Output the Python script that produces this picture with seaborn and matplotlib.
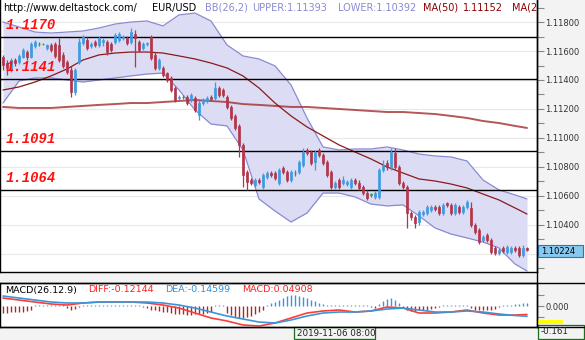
import numpy as np
import pandas as pd
import matplotlib
matplotlib.use("Agg")
import matplotlib.pyplot as plt
import seaborn as sns
from matplotlib.lines import Line2D
from matplotlib.patches import Rectangle
from matplotlib.ticker import MultipleLocator, FixedFormatter

sns.set_theme(style="white")
plt.rcParams['font.family'] = ['DejaVu Sans']

# ---- EUR/USD hourly candles ----
opens = [1.11559, 1.11517, 1.11469, 1.11538, 1.11524, 1.11559, 1.11593, 1.11559, 1.11635, 1.11648,
         1.11648, 1.11621, 1.11642, 1.11648, 1.11642, 1.11573, 1.11524, 1.11469, 1.11317, 1.11524,
         1.11655, 1.11676, 1.11635, 1.11662, 1.11642, 1.11662, 1.11662, 1.11648, 1.11662, 1.11676,
         1.11690, 1.11690, 1.11662, 1.11717, 1.11662, 1.11621, 1.11648, 1.11697, 1.11573, 1.11483,
         1.11483, 1.11448, 1.11414, 1.11345, 1.11276, 1.11283, 1.11283, 1.11262, 1.11276, 1.11159,
         1.11241, 1.11255, 1.11283, 1.11276, 1.11345, 1.11331, 1.11283, 1.11214, 1.11152, 1.11083,
         1.10952, 1.10765, 1.10710, 1.10676, 1.10710, 1.10662, 1.10731, 1.10758, 1.10758, 1.10689,
         1.10793, 1.10765, 1.10710, 1.10758, 1.10765, 1.10814, 1.10917, 1.10903, 1.10834, 1.10917,
         1.10883, 1.10834, 1.10765, 1.10662, 1.10710, 1.10689, 1.10682, 1.10662, 1.10710, 1.10689,
         1.10662, 1.10620, 1.10607, 1.10593, 1.10593, 1.10779, 1.10827, 1.10800, 1.10896, 1.10800,
         1.10689, 1.10662, 1.10482, 1.10455, 1.10420, 1.10475, 1.10482, 1.10503, 1.10524, 1.10524,
         1.10482, 1.10551, 1.10538, 1.10482, 1.10524, 1.10489, 1.10524, 1.10517, 1.10400, 1.10365,
         1.10296, 1.10331, 1.10296, 1.10241, 1.10206, 1.10241, 1.10213, 1.10213, 1.10241, 1.10241,
         1.10193, 1.10241]
highs = [1.11573, 1.11538, 1.11552, 1.11552, 1.11579, 1.11621, 1.11607, 1.11662, 1.11676, 1.11662,
         1.11655, 1.11648, 1.11655, 1.11662, 1.11690, 1.11593, 1.11538, 1.11497, 1.11483, 1.11690,
         1.11710, 1.11697, 1.11662, 1.11676, 1.11704, 1.11690, 1.11676, 1.11662, 1.11724, 1.11731,
         1.11710, 1.11704, 1.11759, 1.11745, 1.11676, 1.11662, 1.11662, 1.11710, 1.11593, 1.11552,
         1.11497, 1.11455, 1.11428, 1.11359, 1.11297, 1.11297, 1.11297, 1.11310, 1.11290, 1.11262,
         1.11276, 1.11290, 1.11297, 1.11386, 1.11359, 1.11345, 1.11297, 1.11228, 1.11165, 1.11096,
         1.10965, 1.10779, 1.10724, 1.10724, 1.10724, 1.10758, 1.10772, 1.10772, 1.10772, 1.10793,
         1.10807, 1.10779, 1.10779, 1.10779, 1.10848, 1.10931, 1.10931, 1.10917, 1.10917, 1.10931,
         1.10896, 1.10848, 1.10779, 1.10703, 1.10724, 1.10738, 1.10710, 1.10724, 1.10724, 1.10710,
         1.10676, 1.10641, 1.10620, 1.10634, 1.10793, 1.10848, 1.10848, 1.10931, 1.10931, 1.10814,
         1.10703, 1.10676, 1.10496, 1.10469, 1.10503, 1.10503, 1.10538, 1.10538, 1.10538, 1.10538,
         1.10551, 1.10558, 1.10551, 1.10551, 1.10538, 1.10538, 1.10572, 1.10558, 1.10413, 1.10379,
         1.10331, 1.10344, 1.10310, 1.10255, 1.10241, 1.10255, 1.10262, 1.10255, 1.10255, 1.10255,
         1.10262, 1.10248]
lows = [1.11469, 1.11435, 1.11455, 1.11497, 1.11510, 1.11552, 1.11538, 1.11552, 1.11621, 1.11635,
        1.11642, 1.11607, 1.11593, 1.11552, 1.11524, 1.11483, 1.11441, 1.11283, 1.11297, 1.11510,
        1.11642, 1.11607, 1.11621, 1.11628, 1.11628, 1.11635, 1.11573, 1.11593, 1.11648, 1.11662,
        1.11676, 1.11642, 1.11648, 1.11490, 1.11593, 1.11607, 1.11635, 1.11538, 1.11469, 1.11469,
        1.11421, 1.11386, 1.11317, 1.11248, 1.11262, 1.11269, 1.11228, 1.11248, 1.11179, 1.11124,
        1.11228, 1.11241, 1.11262, 1.11262, 1.11283, 1.11283, 1.11200, 1.11124, 1.11055, 1.10869,
        1.10662, 1.10641, 1.10676, 1.10662, 1.10682, 1.10648, 1.10717, 1.10731, 1.10710, 1.10676,
        1.10751, 1.10696, 1.10696, 1.10738, 1.10751, 1.10800, 1.10883, 1.10814, 1.10779, 1.10869,
        1.10814, 1.10731, 1.10648, 1.10648, 1.10648, 1.10676, 1.10669, 1.10648, 1.10676, 1.10641,
        1.10607, 1.10572, 1.10593, 1.10579, 1.10579, 1.10765, 1.10779, 1.10779, 1.10786, 1.10676,
        1.10648, 1.10379, 1.10434, 1.10379, 1.10400, 1.10462, 1.10469, 1.10489, 1.10496, 1.10469,
        1.10469, 1.10524, 1.10469, 1.10469, 1.10475, 1.10475, 1.10510, 1.10386, 1.10337, 1.10268,
        1.10282, 1.10282, 1.10199, 1.10193, 1.10193, 1.10206, 1.10199, 1.10199, 1.10213, 1.10179,
        1.10179, 1.10220]
closes = [1.11504, 1.11483, 1.11538, 1.11517, 1.11566, 1.11607, 1.11559, 1.11648, 1.11662, 1.11648,
          1.11648, 1.11642, 1.11607, 1.11566, 1.11538, 1.11497, 1.11455, 1.11317, 1.11469, 1.11662,
          1.11697, 1.11621, 1.11648, 1.11642, 1.11690, 1.11676, 1.11593, 1.11607, 1.11710, 1.11717,
          1.11697, 1.11655, 1.11731, 1.11690, 1.11607, 1.11648, 1.11655, 1.11552, 1.11483, 1.11538,
          1.11435, 1.11400, 1.11331, 1.11262, 1.11283, 1.11283, 1.11241, 1.11297, 1.11193, 1.11241,
          1.11262, 1.11276, 1.11269, 1.11345, 1.11297, 1.11297, 1.11214, 1.11138, 1.11069, 1.10952,
          1.10745, 1.10696, 1.10689, 1.10710, 1.10696, 1.10745, 1.10758, 1.10745, 1.10724, 1.10779,
          1.10765, 1.10710, 1.10765, 1.10758, 1.10834, 1.10903, 1.10896, 1.10827, 1.10903, 1.10883,
          1.10827, 1.10745, 1.10662, 1.10689, 1.10662, 1.10710, 1.10696, 1.10710, 1.10689, 1.10655,
          1.10620, 1.10586, 1.10607, 1.10620, 1.10779, 1.10814, 1.10800, 1.10903, 1.10800, 1.10689,
          1.10662, 1.10482, 1.10455, 1.10413, 1.10489, 1.10489, 1.10524, 1.10524, 1.10510, 1.10482,
          1.10538, 1.10538, 1.10482, 1.10538, 1.10489, 1.10524, 1.10558, 1.10400, 1.10351, 1.10282,
          1.10317, 1.10296, 1.10213, 1.10206, 1.10227, 1.10220, 1.10248, 1.10241, 1.10227, 1.10193,
          1.10241, 1.10224]

# ---- indicator readings, every 4th bar ----
ind_bar = [0, 4, 8, 12, 16, 20, 24, 28, 32, 36, 40, 44, 48, 52, 56, 60, 64, 68, 72, 76,
           80, 84, 88, 92, 96, 100, 104, 108, 112, 116, 120, 124, 128, 131]
bb_upper = [1.11800, 1.11766, 1.11731, 1.11724, 1.11731, 1.11738, 1.11759, 1.11786, 1.11800, 1.11807,
            1.11773, 1.11849, 1.11862, 1.11807, 1.11642, 1.11566, 1.11545, 1.11497, 1.11366, 1.11138,
            1.10938, 1.10917, 1.10924, 1.10924, 1.10938, 1.10917, 1.10889, 1.10876, 1.10869, 1.10841,
            1.10710, 1.10641, 1.10607, 1.10579]
bb_lower = [1.11241, 1.11393, 1.11414, 1.11414, 1.11400, 1.11386, 1.11400, 1.11414, 1.11428, 1.11441,
            1.11448, 1.11331, 1.11193, 1.11096, 1.11083, 1.10917, 1.10579, 1.10496, 1.10420, 1.10482,
            1.10620, 1.10620, 1.10593, 1.10544, 1.10531, 1.10538, 1.10462, 1.10379, 1.10337, 1.10310,
            1.10282, 1.10241, 1.10130, 1.10082]
ma50 = [1.11331, 1.11352, 1.11386, 1.11428, 1.11476, 1.11538, 1.11573, 1.11586, 1.11593, 1.11593,
        1.11586, 1.11566, 1.11545, 1.11517, 1.11483, 1.11428, 1.11345, 1.11241, 1.11152, 1.11076,
        1.11014, 1.10952, 1.10903, 1.10855, 1.10800, 1.10758, 1.10717, 1.10703, 1.10682, 1.10655,
        1.10613, 1.10572, 1.10517, 1.10475]
ma200 = [1.11214, 1.11207, 1.11207, 1.11207, 1.11214, 1.11221, 1.11228, 1.11234, 1.11241, 1.11241,
         1.11248, 1.11255, 1.11262, 1.11255, 1.11248, 1.11234, 1.11228, 1.11221, 1.11214, 1.11214,
         1.11207, 1.11200, 1.11193, 1.11186, 1.11179, 1.11179, 1.11172, 1.11165, 1.11152, 1.11138,
         1.11117, 1.11103, 1.11083, 1.11069]
diff = [0.114, 0.086, 0.057, 0.029, 0.014, 0.043, 0.057, 0.057, 0.057, 0.043,
        0.014, -0.029, -0.100, -0.171, -0.214, -0.271, -0.286, -0.243, -0.171, -0.100,
        -0.071, -0.057, -0.086, -0.071, -0.014, -0.029, -0.100, -0.100, -0.086, -0.057,
        -0.100, -0.129, -0.129, -0.121]
dea = [0.143, 0.114, 0.086, 0.057, 0.043, 0.043, 0.057, 0.057, 0.057, 0.057,
       0.043, 0.014, -0.029, -0.086, -0.143, -0.186, -0.229, -0.243, -0.200, -0.143,
       -0.100, -0.086, -0.086, -0.071, -0.043, -0.029, -0.057, -0.086, -0.086, -0.071,
       -0.086, -0.114, -0.136, -0.146]
macd_hist = [-0.10, -0.10, -0.09, -0.09, -0.08, -0.08, -0.07, -0.06, 0.01, 0.01,
             0.01, 0.01, 0.01, 0.01, 0.01, 0.01, -0.03, -0.05, -0.04, -0.02,
             0.01, 0.01, 0.01, 0.01, 0.01, 0.01, 0.01, 0.01, 0.01, 0.01,
             0.01, 0.01, 0.01, 0.01, 0.01, -0.02, -0.03, -0.05, -0.06, -0.07,
             -0.08, -0.09, -0.10, -0.11, -0.12, -0.12, -0.13, -0.13, -0.12, -0.12,
             -0.11, -0.10, -0.09, 0.01, 0.02, 0.02, -0.10, -0.13, -0.16, -0.17,
             -0.17, -0.16, -0.14, -0.11, -0.08, -0.05, 0.02, 0.04, 0.06, 0.09,
             0.12, 0.14, 0.16, 0.16, 0.15, 0.13, 0.11, 0.09, 0.07, 0.05,
             0.03, 0.01, 0.01, 0.01, 0.01, 0.01, 0.01, 0.01, 0.01, 0.01,
             0.01, 0.01, -0.02, -0.03, 0.03, 0.07, 0.10, 0.11, 0.09, 0.05,
             -0.03, -0.06, -0.07, -0.07, -0.06, -0.06, -0.05, -0.04, -0.03, -0.02,
             0.01, 0.02, 0.02, 0.02, 0.02, 0.01, 0.01, -0.03, -0.05, -0.06,
             -0.06, -0.06, -0.05, -0.04, -0.02, 0.01, 0.02, 0.02, 0.03, 0.03,
             0.04, 0.049]

levels = [1.1170, 1.1141, 1.1091, 1.1064]
price_ticks = [1.102, 1.104, 1.106, 1.108, 1.110, 1.112, 1.114, 1.116, 1.118]
last_price = "1.10224"
cursor_time = "2019-11-06 08:00"
cursor_value = "-0.161"

candles = pd.DataFrame({"open": opens, "high": highs, "low": lows, "close": closes})
candles["bar"] = np.arange(len(candles))
ind = pd.DataFrame({"bar": ind_bar, "upper": bb_upper, "lower": bb_lower,
                    "ma50": ma50, "ma200": ma200, "diff": diff, "dea": dea})

W, H = 585, 340
BG = "#f3f3f3"
UP, DOWN, DOJI = "#3d9be0", "#b3354a", "#2f9a3f"


def box(x0, y0, x1, y1):
    return [x0 / W, 1 - y1 / H, (x1 - x0) / W, (y1 - y0) / H]


fig = plt.figure(figsize=(W / 100, H / 100), dpi=100, facecolor=BG)
ax = fig.add_axes(box(0, 0, 537, 272))
mx = fig.add_axes(box(0, 283, 537, 327), sharex=ax)
for a in (ax, mx):
    a.set_facecolor("white")
ax.set_xlim(-0.75, 133.5)
ax.set_ylim(1.10075, 1.11952)

# Bollinger band
ax.fill_between(ind["bar"], ind["lower"], ind["upper"], color="#dcdcf5", lw=0, zorder=1)
sns.lineplot(data=ind, x="bar", y="upper", ax=ax, color="#8a8ad2", lw=0.9, zorder=2)
sns.lineplot(data=ind, x="bar", y="lower", ax=ax, color="#8a8ad2", lw=0.9, zorder=2)
# moving averages
sns.lineplot(data=ind, x="bar", y="ma200", ax=ax, color="#a8383c", lw=1.4, alpha=0.85, zorder=3)
sns.lineplot(data=ind, x="bar", y="ma50", ax=ax, color="#8b1a1a", lw=0.9, zorder=3)

# support / resistance levels
for lv in levels:
    ax.axhline(lv, color="black", lw=1.0, zorder=4)
    ax.text(0.6, lv + 0.00033, f"{lv:.4f}", color="#ff1010", fontsize=10,
            family="Liberation Mono", weight="bold", style="italic", va="bottom", zorder=6)

# candles
o, c = candles["open"], candles["close"]
col = np.where(c > o, UP, np.where(c < o, DOWN, DOJI))
ax.vlines(candles["bar"], candles["low"], candles["high"], colors=col, lw=0.9, zorder=5)
body = (c - o).abs().clip(lower=0.00003)
ax.bar(candles["bar"], body, bottom=np.minimum(o, c), width=0.72, color=col,
       edgecolor=col, lw=0.5, zorder=5)

# price axis (the 1.10200 label sits under the last-price tag)
ax.yaxis.tick_right()
ax.set_yticks(price_ticks)
ax.yaxis.set_minor_locator(MultipleLocator(0.001))
ax.yaxis.set_major_formatter(FixedFormatter(["" if abs(t - 1.102) < 1e-9 else f"{t:.5f}"
                                             for t in price_ticks]))
ax.tick_params(axis="y", which="both", direction="out", length=5, width=0.8,
               color="#888888", labelsize=6, labelcolor="#333333", pad=1, right=True)
ax.tick_params(axis="x", bottom=False, labelbottom=False)
ax.grid(axis="y", color="#e8e8e8", lw=0.8, zorder=0)
ax.set_axisbelow(True)
ax.set_xlabel("")
ax.set_ylabel("")
for s in ("left", "bottom", "right"):
    ax.spines[s].set_color("black")
    ax.spines[s].set_linewidth(1)
ax.spines["top"].set_visible(False)

# MACD panel
mx.set_ylim(-0.30, 0.329)
hcol = np.where(np.array(macd_hist) >= 0, "#3a96d8", "#a52a2a")
mx.vlines(candles["bar"], 0, macd_hist, colors=hcol, lw=1.0, zorder=2)
sns.lineplot(data=ind, x="bar", y="diff", ax=mx, color="#ff3b3b", lw=1.2, zorder=3)
sns.lineplot(data=ind, x="bar", y="dea", ax=mx, color="#3a96d8", lw=1.2, zorder=3)
mx.yaxis.tick_right()
mx.set_yticks([0.0])
mx.set_yticks([-0.16, 0.16], minor=True)
mx.yaxis.set_major_formatter(FixedFormatter(["0.000"]))
mx.tick_params(axis="y", which="both", direction="out", length=5, width=0.8,
               color="#888888", labelsize=6, labelcolor="#333333", pad=1)
mx.tick_params(axis="x", bottom=False, labelbottom=False)
mx.set_xlabel("")
mx.set_ylabel("")
for s in mx.spines.values():
    s.set_color("black")
    s.set_linewidth(1)

# frame lines across the whole width
for yy in (283, 327):
    fig.add_artist(Line2D([0, 1], [1 - yy / H] * 2, color="black", lw=1))
fig.add_artist(Line2D([537 / W] * 2, [1 - 327 / H, 1], color="black", lw=1))

# header
hy = 1 - 8 / H
hdr = [(3, "http://www.deltastock.com/", "black"), (152, "EUR/USD", "black"),
       (205, "BB(26,2)", "#8a8ad2"), (252, "UPPER:1.11393", "#8a8ad2"),
       (338, "LOWER:1.10392", "#8a8ad2"), (423, "MA(50)", "#8b0000"),
       (463, "1.11152", "#8b0000"), (512, "MA(2", "#8b0000")]
for x, t, cl in hdr:
    fig.text(x / W, hy, t, color=cl, fontsize=7, va="center", ha="left")

# MACD header
my = 1 - 290 / H
for x, t, cl in [(5, "MACD(26.12.9)", "black"), (88, "DIFF:-0.12144", "#ff2020"),
                 (165, "DEA:-0.14599", "#2f8fd8"), (242, "MACD:0.04908", "#ff2020")]:
    fig.text(x / W, my, t, color=cl, fontsize=6.8, va="center", ha="left")

# last price tag
fig.add_artist(Rectangle((538 / W, 1 - 257 / H), 45 / W, 12 / H, transform=fig.transFigure,
                         facecolor="#86c8ee", edgecolor="#2a78b8", lw=0.8))
fig.text(541 / W, 1 - 251 / H, last_price, fontsize=6, color="black", va="center")

# cursor readouts
fig.add_artist(Rectangle((538 / W, 1 - 323.5 / H), 25 / W, 3.5 / H, transform=fig.transFigure,
                         facecolor="#ffff00", edgecolor="none"))
fig.add_artist(Rectangle((538 / W, 1 - 338.5 / H), 46 / W, 14 / H, transform=fig.transFigure,
                         facecolor=BG, edgecolor="#1d6b1d", lw=0.9))
fig.text(541 / W, 1 - 331.5 / H, cursor_value, fontsize=6.3, color="#222222", va="center")
fig.add_artist(Rectangle((294 / W, 1 - 339 / H), 81 / W, 12 / H, transform=fig.transFigure,
                         facecolor=BG, edgecolor="#1d6b1d", lw=0.9))
fig.text(297 / W, 1 - 333 / H, cursor_time, fontsize=6.3, color="#222222", va="center")

fig.savefig("out.png", dpi=100, facecolor=BG)
